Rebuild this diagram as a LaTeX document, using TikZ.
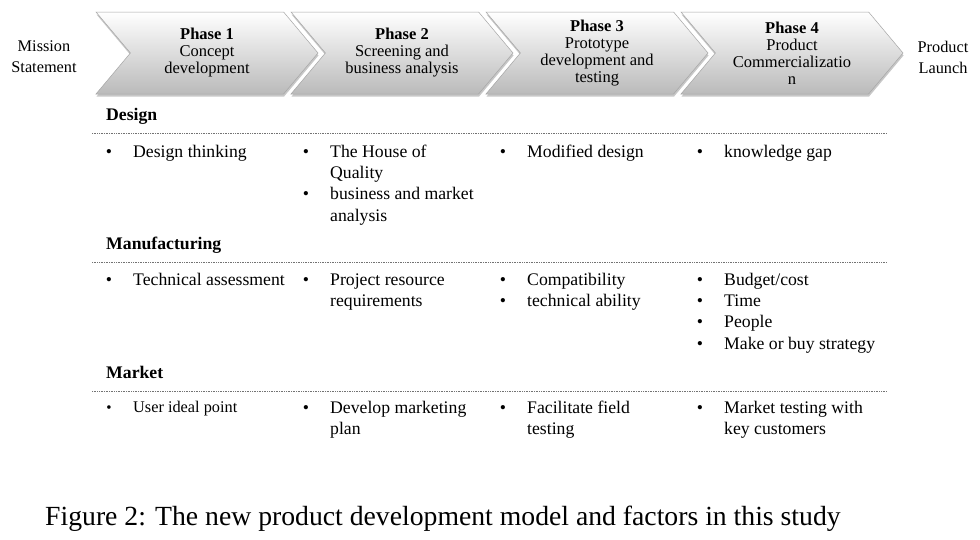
\documentclass[tikz,border=0pt]{standalone}
\usepackage{fontspec}
\setmainfont{Liberation Serif}
\usetikzlibrary{shapes.symbols,shadows}
\begin{document}
\begin{tikzpicture}[x=1pt,y=-1pt,
  chev/.style={signal, signal to=east, signal from=west, signal pointer angle=100,
    minimum width=222pt, minimum height=82pt, inner sep=0pt, align=center,
    font=\fontsize{16.5}{17}\selectfont,
    top color=white, bottom color=black!27, draw=black!35, line width=0.5pt,
    drop shadow={shadow xshift=0.5pt, shadow yshift=-2.5pt, fill=black, opacity=0.22}},
  side/.style={align=center, inner sep=0pt, font=\fontsize{16.3}{21}\selectfont},
  txt/.style={anchor=base west, inner sep=0pt, font=\fontsize{17.7}{21.3}\selectfont},
  sml/.style={anchor=base west, inner sep=0pt, font=\fontsize{16.3}{19}\selectfont},
  bul/.style={anchor=base, inner sep=0pt, font=\fontsize{17.7}{21.3}\selectfont},
  sbul/.style={anchor=base, inner sep=0pt, font=\fontsize{15}{19}\selectfont},
  head/.style={anchor=base west, inner sep=0pt, font=\fontsize{17.7}{21.3}\selectfont\bfseries},
  rulel/.style={draw=black!55, densely dotted, line width=0.7pt}]
\useasboundingbox[fill=white] (0,0) rectangle (980,539);

% header chevrons
\node[chev] (p1) at (207,53) {\textbf{Phase 1}\\Concept\\development};
\node[chev] (p2) at (402,53) {\textbf{Phase 2}\\Screening and\\business analysis};
\node[chev] (p3) at (597,53) {\textbf{Phase 3}\\Prototype\\development and\\testing};
\node[chev] (p4) at (792,53) {\textbf{Phase 4}\\Product\\Commercializatio\\n};
\node[side] (ms) at (44,57) {Mission\\Statement};
\node[side] (pl) at (943,57) {Product\\Launch};

% section headings and dotted rules
\node[head] (hd) at (106,120) {Design};
\node[head] (hm) at (106,249) {Manufacturing};
\node[head] (hk) at (106,378) {Market};
\coordinate (r1a) at (92,133); \coordinate (r1b) at (887,133);
\coordinate (r2a) at (92,262); \coordinate (r2b) at (887,262);
\coordinate (r3a) at (92,391); \coordinate (r3b) at (887,391);
\draw[rulel] (r1a) -- (r1b);
\draw[rulel] (r2a) -- (r2b);
\draw[rulel] (r3a) -- (r3b);

% Design row
\node[bul] (b11) at (109,157) {•};
\node[txt] (t11) at (133,157) {Design thinking};
\node[bul] (b12a) at (306,157) {•};
\node[txt] (t12a) at (330,157) {The House of};
\node[txt] (t12b) at (330,178.3) {Quality};
\node[bul] (b12c) at (306,199.6) {•};
\node[txt] (t12c) at (330,199.6) {business and market};
\node[txt] (t12d) at (330,221) {analysis};
\node[bul] (b13) at (503,157) {•};
\node[txt] (t13) at (527,157) {Modified design};
\node[bul] (b14) at (700,157) {•};
\node[txt] (t14) at (724,157) {knowledge gap};

% Manufacturing row
\node[bul] (b21) at (109,285) {•};
\node[txt] (t21) at (133,285) {Technical assessment};
\node[bul] (b22) at (306,285) {•};
\node[txt] (t22a) at (330,285) {Project resource};
\node[txt] (t22b) at (330,306.3) {requirements};
\node[bul] (b23a) at (503,285) {•};
\node[txt] (t23a) at (527,285) {Compatibility};
\node[bul] (b23b) at (503,306.3) {•};
\node[txt] (t23b) at (527,306.3) {technical ability};
\node[bul] (b24a) at (700,285) {•};
\node[txt] (t24a) at (724,285) {Budget/cost};
\node[bul] (b24b) at (700,306.3) {•};
\node[txt] (t24b) at (724,306.3) {Time};
\node[bul] (b24c) at (700,327.6) {•};
\node[txt] (t24c) at (724,327.6) {People};
\node[bul] (b24d) at (700,349) {•};
\node[txt] (t24d) at (724,349) {Make or buy strategy};

% Market row
\node[sbul] (b31) at (109,412) {•};
\node[sml] (t31) at (133,412) {User ideal point};
\node[bul] (b32) at (306,413) {•};
\node[txt] (t32a) at (330,413) {Develop marketing};
\node[txt] (t32b) at (330,434.3) {plan};
\node[bul] (b33) at (503,413) {•};
\node[txt] (t33a) at (527,413) {Facilitate field};
\node[txt] (t33b) at (527,434.3) {testing};
\node[bul] (b34) at (700,413) {•};
\node[txt] (t34a) at (724,413) {Market testing with};
\node[txt] (t34b) at (724,434.3) {key customers};

% caption
\node[anchor=base west, inner sep=0pt, font=\fontsize{27.7}{33}\selectfont] (cap) at (45,525)
  {Figure 2: The new product development model and factors in this study};
\end{tikzpicture}
\end{document}
